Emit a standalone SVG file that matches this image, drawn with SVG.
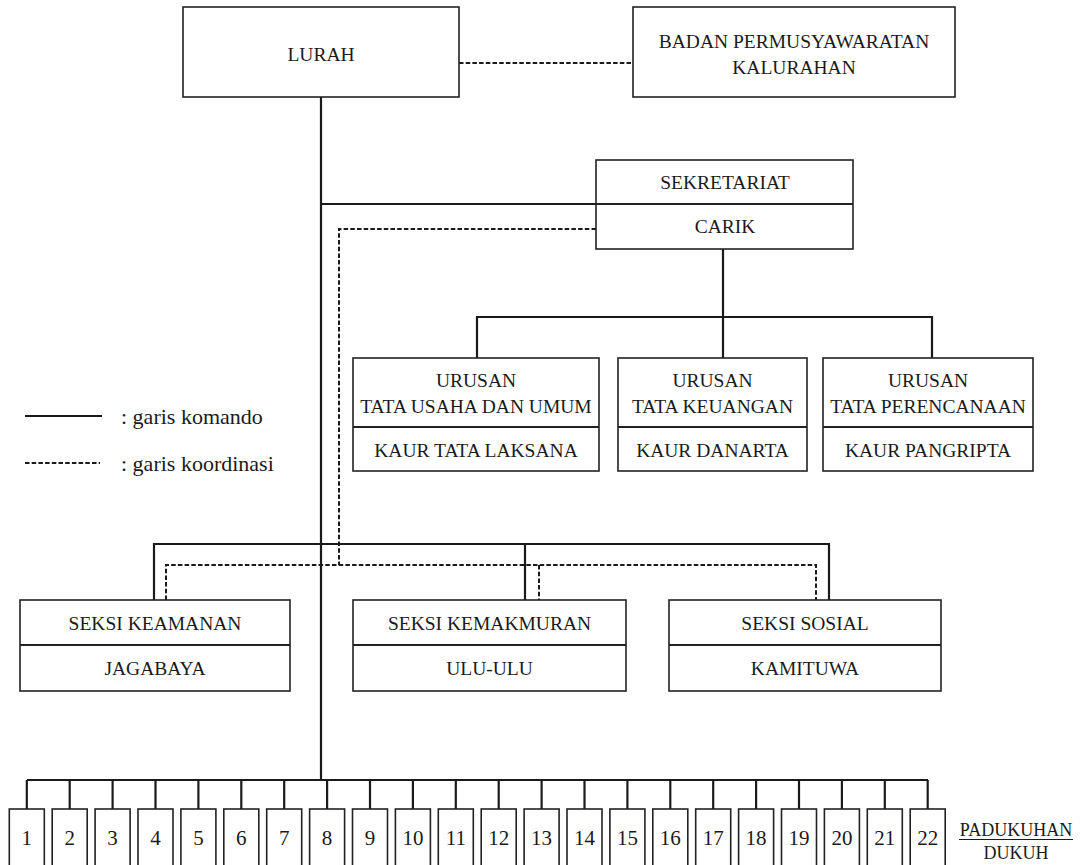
<svg xmlns="http://www.w3.org/2000/svg" width="1083" height="865" viewBox="0 0 1083 865" font-family="Liberation Serif, Times New Roman, serif">
<style>
  .box { fill: #fff; stroke: #222; stroke-width: 1.6; }
  .div { stroke: #222; stroke-width: 2; }
  .cmd { fill: none; stroke: #1a1a1a; stroke-width: 2.2; }
  .crd { fill: none; stroke: #1a1a1a; stroke-width: 2; stroke-dasharray: 4.5 2.2; }
  .t { font-size: 19.5px; text-anchor: middle; fill: #1a1a1a; }
  .n { font-size: 21px; text-anchor: middle; fill: #1a1a1a; }
  .lg { font-size: 22px; fill: #1a1a1a; }
  .pd { font-size: 18px; text-anchor: middle; fill: #1a1a1a; }
</style>
<rect width="1083" height="865" fill="#fff"/>

<g id="connectors">
  <line class="cmd" x1="321" y1="97" x2="321" y2="780"/>
  <line class="cmd" x1="321" y1="204" x2="596" y2="204"/>
  <line class="crd" x1="459" y1="63" x2="633" y2="63"/>
  <line class="cmd" x1="723" y1="249" x2="723" y2="358"/>
  <polyline class="cmd" points="477,358 477,317 932,317 932,358"/>
  <polyline class="crd" points="596,229 339,229 339,565"/>
  <polyline class="cmd" points="154,600 154,544 829,544 829,600"/>
  <line class="cmd" x1="525" y1="544" x2="525" y2="600"/>
  <polyline class="crd" points="166,600 166,565 816,565 816,600"/>
  <line class="crd" x1="539" y1="565" x2="539" y2="600"/>
  <line class="cmd" x1="27" y1="780" x2="928" y2="780"/>
  <g class="drops">
    <line class="cmd" x1="26.8" y1="780" x2="26.8" y2="809"/>
    <line class="cmd" x1="69.7" y1="780" x2="69.7" y2="809"/>
    <line class="cmd" x1="112.6" y1="780" x2="112.6" y2="809"/>
    <line class="cmd" x1="155.5" y1="780" x2="155.5" y2="809"/>
    <line class="cmd" x1="198.4" y1="780" x2="198.4" y2="809"/>
    <line class="cmd" x1="241.3" y1="780" x2="241.3" y2="809"/>
    <line class="cmd" x1="284.2" y1="780" x2="284.2" y2="809"/>
    <line class="cmd" x1="327.1" y1="780" x2="327.1" y2="809"/>
    <line class="cmd" x1="370" y1="780" x2="370" y2="809"/>
    <line class="cmd" x1="412.9" y1="780" x2="412.9" y2="809"/>
    <line class="cmd" x1="455.8" y1="780" x2="455.8" y2="809"/>
    <line class="cmd" x1="498.7" y1="780" x2="498.7" y2="809"/>
    <line class="cmd" x1="541.6" y1="780" x2="541.6" y2="809"/>
    <line class="cmd" x1="584.5" y1="780" x2="584.5" y2="809"/>
    <line class="cmd" x1="627.4" y1="780" x2="627.4" y2="809"/>
    <line class="cmd" x1="670.3" y1="780" x2="670.3" y2="809"/>
    <line class="cmd" x1="713.2" y1="780" x2="713.2" y2="809"/>
    <line class="cmd" x1="756.1" y1="780" x2="756.1" y2="809"/>
    <line class="cmd" x1="799" y1="780" x2="799" y2="809"/>
    <line class="cmd" x1="841.9" y1="780" x2="841.9" y2="809"/>
    <line class="cmd" x1="884.8" y1="780" x2="884.8" y2="809"/>
    <line class="cmd" x1="927.7" y1="780" x2="927.7" y2="809"/>
  </g>
</g>

<g id="lurah">
  <rect class="box" x="183" y="7" width="276" height="90"/>
  <text class="t" x="321" y="61">LURAH</text>
</g>
<g id="bpk">
  <rect class="box" x="633" y="7" width="322" height="90"/>
  <text class="t" x="794" y="48">BADAN PERMUSYAWARATAN</text>
  <text class="t" x="794" y="74">KALURAHAN</text>
</g>
<g id="sekretariat">
  <rect class="box" x="596" y="160" width="257" height="89"/>
  <line class="div" x1="596" y1="204" x2="853" y2="204"/>
  <text class="t" x="725" y="189">SEKRETARIAT</text>
  <text class="t" x="725" y="233">CARIK</text>
</g>
<g id="kaur-umum">
  <rect class="box" x="353" y="358" width="246" height="113"/>
  <line class="div" x1="353" y1="427" x2="599" y2="427"/>
  <text class="t" x="476" y="387">URUSAN</text>
  <text class="t" x="476" y="413">TATA USAHA DAN UMUM</text>
  <text class="t" x="476" y="457">KAUR TATA LAKSANA</text>
</g>
<g id="kaur-keuangan">
  <rect class="box" x="618" y="358" width="189" height="113"/>
  <line class="div" x1="618" y1="427" x2="807" y2="427"/>
  <text class="t" x="712.5" y="387">URUSAN</text>
  <text class="t" x="712.5" y="413">TATA KEUANGAN</text>
  <text class="t" x="712.5" y="457">KAUR DANARTA</text>
</g>
<g id="kaur-perencanaan">
  <rect class="box" x="823" y="358" width="210" height="113"/>
  <line class="div" x1="823" y1="427" x2="1033" y2="427"/>
  <text class="t" x="928" y="387">URUSAN</text>
  <text class="t" x="928" y="413">TATA PERENCANAAN</text>
  <text class="t" x="928" y="457">KAUR PANGRIPTA</text>
</g>

<g id="legend">
  <line class="cmd" x1="25" y1="416" x2="102" y2="416"/>
  <text class="lg" x="121" y="424">: garis komando</text>
  <line class="crd" x1="25" y1="463" x2="100" y2="463"/>
  <text class="lg" x="121" y="471">: garis koordinasi</text>
</g>

<g id="seksi-keamanan">
  <rect class="box" x="20" y="600" width="270" height="91"/>
  <line class="div" x1="20" y1="645" x2="290" y2="645"/>
  <text class="t" x="155" y="630">SEKSI KEAMANAN</text>
  <text class="t" x="155" y="675">JAGABAYA</text>
</g>
<g id="seksi-kemakmuran">
  <rect class="box" x="353" y="600" width="273" height="91"/>
  <line class="div" x1="353" y1="645" x2="626" y2="645"/>
  <text class="t" x="489.5" y="630">SEKSI KEMAKMURAN</text>
  <text class="t" x="489.5" y="675">ULU-ULU</text>
</g>
<g id="seksi-sosial">
  <rect class="box" x="669" y="600" width="272" height="91"/>
  <line class="div" x1="669" y1="645" x2="941" y2="645"/>
  <text class="t" x="805" y="630">SEKSI SOSIAL</text>
  <text class="t" x="805" y="675">KAMITUWA</text>
</g>

<g id="padukuhan">
  <g id="p1"><rect class="box" x="9.3" y="809" width="35" height="70"/><text class="n" x="26.8" y="845">1</text></g>
  <g id="p2"><rect class="box" x="52.2" y="809" width="35" height="70"/><text class="n" x="69.7" y="845">2</text></g>
  <g id="p3"><rect class="box" x="95.1" y="809" width="35" height="70"/><text class="n" x="112.6" y="845">3</text></g>
  <g id="p4"><rect class="box" x="138" y="809" width="35" height="70"/><text class="n" x="155.5" y="845">4</text></g>
  <g id="p5"><rect class="box" x="180.9" y="809" width="35" height="70"/><text class="n" x="198.4" y="845">5</text></g>
  <g id="p6"><rect class="box" x="223.8" y="809" width="35" height="70"/><text class="n" x="241.3" y="845">6</text></g>
  <g id="p7"><rect class="box" x="266.7" y="809" width="35" height="70"/><text class="n" x="284.2" y="845">7</text></g>
  <g id="p8"><rect class="box" x="309.6" y="809" width="35" height="70"/><text class="n" x="327.1" y="845">8</text></g>
  <g id="p9"><rect class="box" x="352.5" y="809" width="35" height="70"/><text class="n" x="370" y="845">9</text></g>
  <g id="p10"><rect class="box" x="395.4" y="809" width="35" height="70"/><text class="n" x="412.9" y="845">10</text></g>
  <g id="p11"><rect class="box" x="438.3" y="809" width="35" height="70"/><text class="n" x="455.8" y="845">11</text></g>
  <g id="p12"><rect class="box" x="481.2" y="809" width="35" height="70"/><text class="n" x="498.7" y="845">12</text></g>
  <g id="p13"><rect class="box" x="524.1" y="809" width="35" height="70"/><text class="n" x="541.6" y="845">13</text></g>
  <g id="p14"><rect class="box" x="567" y="809" width="35" height="70"/><text class="n" x="584.5" y="845">14</text></g>
  <g id="p15"><rect class="box" x="609.9" y="809" width="35" height="70"/><text class="n" x="627.4" y="845">15</text></g>
  <g id="p16"><rect class="box" x="652.8" y="809" width="35" height="70"/><text class="n" x="670.3" y="845">16</text></g>
  <g id="p17"><rect class="box" x="695.7" y="809" width="35" height="70"/><text class="n" x="713.2" y="845">17</text></g>
  <g id="p18"><rect class="box" x="738.6" y="809" width="35" height="70"/><text class="n" x="756.1" y="845">18</text></g>
  <g id="p19"><rect class="box" x="781.5" y="809" width="35" height="70"/><text class="n" x="799" y="845">19</text></g>
  <g id="p20"><rect class="box" x="824.4" y="809" width="35" height="70"/><text class="n" x="841.9" y="845">20</text></g>
  <g id="p21"><rect class="box" x="867.3" y="809" width="35" height="70"/><text class="n" x="884.8" y="845">21</text></g>
  <g id="p22"><rect class="box" x="910.2" y="809" width="35" height="70"/><text class="n" x="927.7" y="845">22</text></g>
</g>

<g id="label-padukuhan">
  <text class="pd" x="1016" y="836">PADUKUHAN</text>
  <line x1="959" y1="839.5" x2="1073" y2="839.5" stroke="#1a1a1a" stroke-width="1.2"/>
  <text class="pd" x="1016" y="859">DUKUH</text>
</g>
</svg>
